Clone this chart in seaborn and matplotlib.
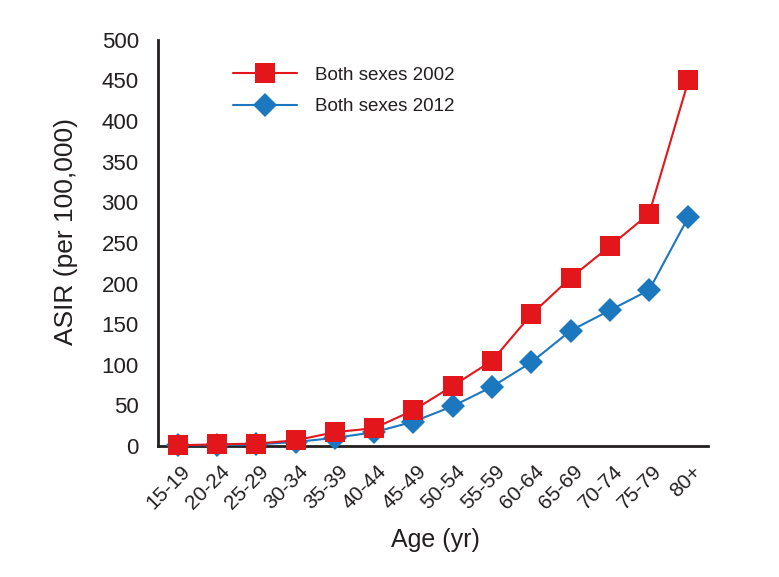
import matplotlib
matplotlib.use("Agg")
import matplotlib.pyplot as plt
import matplotlib.transforms as mtransforms
import seaborn as sns
import pandas as pd
import numpy as np

age_groups = ["15-19", "20-24", "25-29", "30-34", "35-39", "40-44", "45-49",
              "50-54", "55-59", "60-64", "65-69", "70-74", "75-79", "80+"]
asir_2002 = [1, 2, 3, 7, 17, 22, 44, 74, 105, 162, 207, 246, 286, 450]
asir_2012 = [1, 1, 2, 5, 10, 17, 30, 49, 73, 103, 142, 167, 192, 282]
series_names = ["Both sexes 2002", "Both sexes 2012"]
y_ticks = [0, 50, 100, 150, 200, 250, 300, 350, 400, 450, 500]

df = pd.DataFrame({
    "x": list(range(len(age_groups))) * 2,
    "age": age_groups * 2,
    "ASIR": asir_2002 + asir_2012,
    "series": [series_names[0]] * len(age_groups) + [series_names[1]] * len(age_groups),
})

sns.set_theme(style="white")
plt.rcParams["font.family"] = ["Liberation Sans", "DejaVu Sans"]

fig = plt.figure(figsize=(7.79, 5.77), dpi=100)
ax = fig.add_axes([0.203, 0.227, 0.706, 0.704])

palette = {series_names[0]: "#E3161B", series_names[1]: "#1C78BE"}
markers = {series_names[0]: "s", series_names[1]: "D"}
sizes_ms = {series_names[0]: 14.5, series_names[1]: 12}

# draw 2012 first so 2002 squares sit on top
for name in [series_names[1], series_names[0]]:
    sub = df[df["series"] == name]
    sns.lineplot(data=sub, x="x", y="ASIR", color=palette[name], marker=markers[name],
                 markersize=sizes_ms[name], markeredgewidth=0, linewidth=1.5,
                 label=name, ax=ax, clip_on=False, zorder=3)

handles, labels = ax.get_legend_handles_labels()
order = [labels.index(series_names[0]), labels.index(series_names[1])]
leg = ax.legend([handles[i] for i in order], [labels[i] for i in order],
                loc="upper left", bbox_to_anchor=(0.105, 0.975), frameon=False,
                fontsize=13.5, handlelength=3.4, labelspacing=0.75, handletextpad=1.0,
                labelcolor="#231F20")

ax.set_xlim(-0.5, len(age_groups) - 0.5)
ax.set_ylim(0, 500)
ax.set_yticks(y_ticks)
ax.set_yticklabels([str(v) for v in y_ticks], fontsize=16, color="#231F20")
ax.set_xticks(range(len(age_groups)))
ax.set_xticklabels(age_groups, rotation=45, ha="right", rotation_mode="anchor",
                   fontsize=15, color="#231F20")
ax.set_xticks(np.arange(0.5, len(age_groups), 1.0), minor=True)
ax.tick_params(axis="x", which="major", length=0, pad=5)
ax.tick_params(axis="x", which="minor", direction="in", length=10, width=1.2, color="#231F20")
ax.tick_params(axis="y", which="major", direction="in", length=10, width=1.2,
               color="#231F20", pad=14)

offset = mtransforms.ScaledTranslation(3 / 100, -9 / 100, fig.dpi_scale_trans)
for tick in ax.xaxis.get_major_ticks():
    tick.label1.set_transform(tick.label1.get_transform() + offset)

for s in ["top", "right"]:
    ax.spines[s].set_visible(False)
for s in ["left", "bottom"]:
    ax.spines[s].set_color("#231F20")
    ax.spines[s].set_linewidth(2)
    ax.spines[s].set_zorder(2)

ax.set_xlabel("Age (yr)", fontsize=18, color="#231F20")
ax.set_ylabel("ASIR (per 100,000)", fontsize=19, color="#231F20")
ax.xaxis.set_label_coords(0.504, -0.202)
ax.yaxis.set_label_coords(-0.145, 0.527)

fig.savefig("out.png", dpi=100)
